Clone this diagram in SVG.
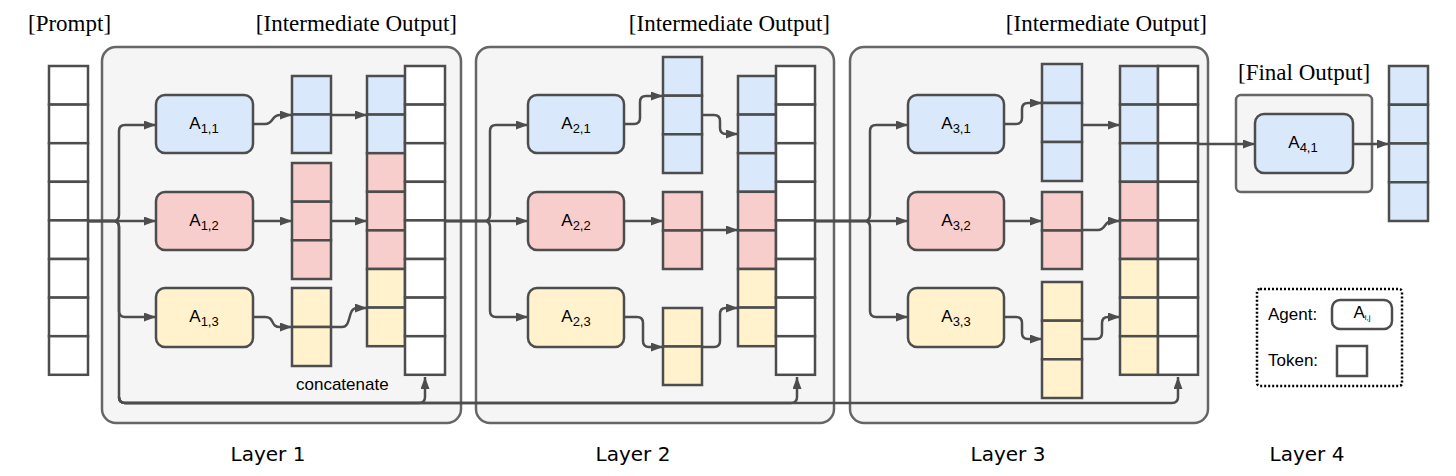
<svg xmlns="http://www.w3.org/2000/svg" width="1456" height="476" viewBox="0 0 1456 476">
<defs>
<style>
.layer{fill:#f5f5f5;stroke:#666;stroke-width:2.5}
.agent{stroke:#4d4d4d;stroke-width:2.5}
.blue{fill:#dae8fc}
.pink{fill:#f8cecc}
.yel{fill:#fff2cc}
.wht{fill:#ffffff}
.cell{stroke:#4d4d4d;stroke-width:2.5}
.conn{fill:none;stroke:#4d4d4d;stroke-width:2.5;marker-end:url(#arr)}
.title{font-family:"Liberation Serif","Times New Roman",serif;font-size:23px;fill:#000}
.lbl{font-family:"Liberation Sans",Arial,sans-serif;fill:#000}
.alabel{font-family:"Liberation Sans",Arial,sans-serif;font-size:17px;fill:#000;text-anchor:middle}
.layername{font-family:"DejaVu Sans",sans-serif;font-size:20px;fill:#000;text-anchor:middle}
</style>
<marker id="arr" markerUnits="userSpaceOnUse" markerWidth="13" markerHeight="10" refX="12" refY="4.5" orient="auto">
<path d="M0,0 L12,4.5 L0,9 z" fill="#4d4d4d"/>
</marker>
</defs>
<rect width="1456" height="476" fill="#ffffff"/>

<!-- Layer containers -->
<g id="layer1"><rect class="layer" x="102" y="47" width="359" height="376" rx="14"/></g>
<g id="layer2"><rect class="layer" x="476" y="47" width="358" height="376" rx="14"/></g>
<g id="layer3"><rect class="layer" x="850" y="47" width="358" height="376" rx="14"/></g>
<g id="layer4"><rect class="layer" x="1236" y="95" width="136" height="97" rx="5"/></g>

<!-- Titles -->
<g id="titles">
<text class="title" x="28" y="31">[Prompt]</text>
<text class="title" x="457" y="31" text-anchor="end">[Intermediate Output]</text>
<text class="title" x="830" y="31" text-anchor="end">[Intermediate Output]</text>
<text class="title" x="1207" y="31" text-anchor="end">[Intermediate Output]</text>
<text class="title" x="1238" y="80">[Final Output]</text>
<text class="lbl" x="296" y="390" font-size="17">concatenate</text>
<text class="layername" x="268" y="461">Layer 1</text>
<text class="layername" x="633" y="461">Layer 2</text>
<text class="layername" x="1008" y="461">Layer 3</text>
<text class="layername" x="1307" y="461">Layer 4</text>
</g>

<!-- Connectors -->
<g id="connectors">
<path class="conn" d="M88,221 H113 Q119,221 119,215 V131 Q119,125 125,125 H156"/>
<path class="conn" d="M88,221 H156"/>
<path class="conn" d="M88,221 H113 Q119,221 119,227 V311 Q119,317 125,317 H156"/>
<path class="conn" d="M88,221 H113 Q119,221 119,227 V397 Q119,403 125,403 H419 Q425,403 425,397 V377"/>
<path class="conn" d="M119,397 Q119,403 125,403 H791 Q797,403 797,397 V377"/>
<path class="conn" d="M119,397 Q119,403 125,403 H1172 Q1178,403 1178,397 V377"/>

<path class="conn" d="M253,124 H265 C274,124 271,115 280,115 H292"/>
<path class="conn" d="M331,115 H367"/>
<path class="conn" d="M253,221 H292"/>
<path class="conn" d="M331,221 H367"/>
<path class="conn" d="M253,317 H265 C275,317 270,327 280,327 H292"/>
<path class="conn" d="M331,327 H342 C352,327 347,308 357,308 H367"/>

<path class="conn" d="M445,221 H484 Q490,221 490,215 V131 Q490,125 496,125 H528"/>
<path class="conn" d="M445,221 H528"/>
<path class="conn" d="M445,221 H484 Q490,221 490,227 V311 Q490,317 496,317 H528"/>

<path class="conn" d="M624,124 H634 Q640,124 640,118 V102 Q640,96 646,96 H663"/>
<path class="conn" d="M702,115 H714 Q720,115 720,121 V128 Q720,134 726,134 H738"/>
<path class="conn" d="M624,221 H663"/>
<path class="conn" d="M702,230 H738"/>
<path class="conn" d="M624,317 H637 Q643,317 643,323 V341 Q643,347 649,347 H663"/>
<path class="conn" d="M702,347 H714 Q720,347 720,341 V314 Q720,308 726,308 H738"/>

<path class="conn" d="M815,221 H864 Q870,221 870,215 V131 Q870,125 876,125 H908"/>
<path class="conn" d="M815,221 H908"/>
<path class="conn" d="M815,221 H864 Q870,221 870,227 V311 Q870,317 876,317 H908"/>

<path class="conn" d="M1004,124 H1016 Q1022,124 1022,118 V109 Q1022,103 1028,103 H1042"/>
<path class="conn" d="M1082,125 H1120"/>
<path class="conn" d="M1004,221 H1042"/>
<path class="conn" d="M1082,230 H1098 C1106,230 1104,221 1112,221 H1120"/>
<path class="conn" d="M1004,317 H1016 Q1022,317 1022,323 V333 Q1022,339 1028,339 H1042"/>
<path class="conn" d="M1082,339 H1096 Q1102,339 1102,333 V323 Q1102,317 1108,317 H1120"/>

<path class="conn" d="M1198,144 H1255"/>
<path class="conn" d="M1353,144 H1389"/>
</g>

<!-- Prompt tokens -->
<g id="prompt">
<rect class="cell wht" x="49" y="66" width="39" height="38.6"/>
<rect class="cell wht" x="49" y="104.6" width="39" height="38.6"/>
<rect class="cell wht" x="49" y="143.2" width="39" height="38.6"/>
<rect class="cell wht" x="49" y="181.8" width="39" height="38.6"/>
<rect class="cell wht" x="49" y="220.4" width="39" height="38.6"/>
<rect class="cell wht" x="49" y="259" width="39" height="38.6"/>
<rect class="cell wht" x="49" y="297.6" width="39" height="38.6"/>
<rect class="cell wht" x="49" y="336.2" width="39" height="38.6"/>
</g>

<!-- Layer 1 agents -->
<g id="A11"><rect class="agent blue" x="156" y="95" width="97" height="58" rx="9"/><text class="alabel" x="204" y="129">A<tspan font-size="13" dy="4">1,1</tspan></text></g>
<g id="A12"><rect class="agent pink" x="156" y="192" width="97" height="58" rx="9"/><text class="alabel" x="204" y="226">A<tspan font-size="13" dy="4">1,2</tspan></text></g>
<g id="A13"><rect class="agent yel" x="156" y="288" width="97" height="59" rx="9"/><text class="alabel" x="204" y="322">A<tspan font-size="13" dy="4">1,3</tspan></text></g>

<g id="out11">
<rect class="cell blue" x="292" y="76" width="39" height="38.5"/>
<rect class="cell blue" x="292" y="114.5" width="39" height="38.5"/>
</g>
<g id="out12">
<rect class="cell pink" x="292" y="163" width="39" height="38.7"/>
<rect class="cell pink" x="292" y="201.7" width="39" height="38.6"/>
<rect class="cell pink" x="292" y="240.3" width="39" height="38.7"/>
</g>
<g id="out13">
<rect class="cell yel" x="292" y="288" width="39" height="39"/>
<rect class="cell yel" x="292" y="327" width="39" height="39"/>
</g>
<g id="concat1">
<rect class="cell blue" x="367" y="76" width="38" height="38.6"/>
<rect class="cell blue" x="367" y="114.6" width="38" height="38.6"/>
<rect class="cell pink" x="367" y="153.2" width="38" height="38.6"/>
<rect class="cell pink" x="367" y="191.8" width="38" height="38.6"/>
<rect class="cell pink" x="367" y="230.4" width="38" height="38.6"/>
<rect class="cell yel" x="367" y="269" width="38" height="38.6"/>
<rect class="cell yel" x="367" y="307.6" width="38" height="38.6"/>
<rect class="cell wht" x="405" y="66" width="40" height="38.6"/>
<rect class="cell wht" x="405" y="104.6" width="40" height="38.6"/>
<rect class="cell wht" x="405" y="143.2" width="40" height="38.6"/>
<rect class="cell wht" x="405" y="181.8" width="40" height="38.6"/>
<rect class="cell wht" x="405" y="220.4" width="40" height="38.6"/>
<rect class="cell wht" x="405" y="259" width="40" height="38.6"/>
<rect class="cell wht" x="405" y="297.6" width="40" height="38.6"/>
<rect class="cell wht" x="405" y="336.2" width="40" height="38.6"/>
</g>

<!-- Layer 2 -->
<g id="A21"><rect class="agent blue" x="528" y="95" width="96" height="58" rx="9"/><text class="alabel" x="576" y="129">A<tspan font-size="13" dy="4">2,1</tspan></text></g>
<g id="A22"><rect class="agent pink" x="528" y="192" width="96" height="58" rx="9"/><text class="alabel" x="576" y="226">A<tspan font-size="13" dy="4">2,2</tspan></text></g>
<g id="A23"><rect class="agent yel" x="528" y="288" width="96" height="59" rx="9"/><text class="alabel" x="576" y="322">A<tspan font-size="13" dy="4">2,3</tspan></text></g>

<g id="out21">
<rect class="cell blue" x="663" y="57" width="39" height="38.7"/>
<rect class="cell blue" x="663" y="95.7" width="39" height="38.6"/>
<rect class="cell blue" x="663" y="134.3" width="39" height="38.7"/>
</g>
<g id="out22">
<rect class="cell pink" x="663" y="192" width="39" height="38.5"/>
<rect class="cell pink" x="663" y="230.5" width="39" height="38.5"/>
</g>
<g id="out23">
<rect class="cell yel" x="663" y="308" width="39" height="38.5"/>
<rect class="cell yel" x="663" y="346.5" width="39" height="38.5"/>
</g>
<g id="concat2">
<rect class="cell blue" x="738" y="76" width="38" height="38.6"/>
<rect class="cell blue" x="738" y="114.6" width="38" height="38.6"/>
<rect class="cell blue" x="738" y="153.2" width="38" height="38.6"/>
<rect class="cell pink" x="738" y="191.8" width="38" height="38.6"/>
<rect class="cell pink" x="738" y="230.4" width="38" height="38.6"/>
<rect class="cell yel" x="738" y="269" width="38" height="38.6"/>
<rect class="cell yel" x="738" y="307.6" width="38" height="38.6"/>
<rect class="cell wht" x="776" y="66" width="39" height="38.6"/>
<rect class="cell wht" x="776" y="104.6" width="39" height="38.6"/>
<rect class="cell wht" x="776" y="143.2" width="39" height="38.6"/>
<rect class="cell wht" x="776" y="181.8" width="39" height="38.6"/>
<rect class="cell wht" x="776" y="220.4" width="39" height="38.6"/>
<rect class="cell wht" x="776" y="259" width="39" height="38.6"/>
<rect class="cell wht" x="776" y="297.6" width="39" height="38.6"/>
<rect class="cell wht" x="776" y="336.2" width="39" height="38.6"/>
</g>

<!-- Layer 3 -->
<g id="A31"><rect class="agent blue" x="908" y="95" width="96" height="58" rx="9"/><text class="alabel" x="956" y="129">A<tspan font-size="13" dy="4">3,1</tspan></text></g>
<g id="A32"><rect class="agent pink" x="908" y="192" width="96" height="58" rx="9"/><text class="alabel" x="956" y="226">A<tspan font-size="13" dy="4">3,2</tspan></text></g>
<g id="A33"><rect class="agent yel" x="908" y="288" width="96" height="59" rx="9"/><text class="alabel" x="956" y="322">A<tspan font-size="13" dy="4">3,3</tspan></text></g>

<g id="out31">
<rect class="cell blue" x="1042" y="64" width="40" height="39"/>
<rect class="cell blue" x="1042" y="103" width="40" height="39"/>
<rect class="cell blue" x="1042" y="142" width="40" height="39"/>
</g>
<g id="out32">
<rect class="cell pink" x="1042" y="192" width="40" height="38.5"/>
<rect class="cell pink" x="1042" y="230.5" width="40" height="38.5"/>
</g>
<g id="out33">
<rect class="cell yel" x="1042" y="282" width="40" height="38.7"/>
<rect class="cell yel" x="1042" y="320.7" width="40" height="38.6"/>
<rect class="cell yel" x="1042" y="359.3" width="40" height="38.7"/>
</g>
<g id="concat3">
<rect class="cell blue" x="1120" y="66" width="38" height="38.6"/>
<rect class="cell blue" x="1120" y="104.6" width="38" height="38.6"/>
<rect class="cell blue" x="1120" y="143.2" width="38" height="38.6"/>
<rect class="cell pink" x="1120" y="181.8" width="38" height="38.6"/>
<rect class="cell pink" x="1120" y="220.4" width="38" height="38.6"/>
<rect class="cell yel" x="1120" y="259" width="38" height="38.6"/>
<rect class="cell yel" x="1120" y="297.6" width="38" height="38.6"/>
<rect class="cell yel" x="1120" y="336.2" width="38" height="38.6"/>
<rect class="cell wht" x="1158" y="66" width="40" height="38.6"/>
<rect class="cell wht" x="1158" y="104.6" width="40" height="38.6"/>
<rect class="cell wht" x="1158" y="143.2" width="40" height="38.6"/>
<rect class="cell wht" x="1158" y="181.8" width="40" height="38.6"/>
<rect class="cell wht" x="1158" y="220.4" width="40" height="38.6"/>
<rect class="cell wht" x="1158" y="259" width="40" height="38.6"/>
<rect class="cell wht" x="1158" y="297.6" width="40" height="38.6"/>
<rect class="cell wht" x="1158" y="336.2" width="40" height="38.6"/>
</g>

<!-- Layer 4 -->
<g id="A41"><rect class="agent blue" x="1255" y="114" width="98" height="59" rx="9"/><text class="alabel" x="1303" y="148">A<tspan font-size="13" dy="4">4,1</tspan></text></g>
<g id="final">
<rect class="cell blue" x="1389" y="66" width="39" height="38.75"/>
<rect class="cell blue" x="1389" y="104.75" width="39" height="38.75"/>
<rect class="cell blue" x="1389" y="143.5" width="39" height="38.75"/>
<rect class="cell blue" x="1389" y="182.25" width="39" height="38.75"/>
</g>

<!-- Legend -->
<g id="legend">
<rect x="1257" y="289" width="145" height="97" rx="3" fill="#ffffff" stroke="#000" stroke-width="2.5" stroke-dasharray="2,2"/>
<text class="lbl" x="1268" y="320" font-size="17">Agent:</text>
<rect class="agent wht" x="1332" y="300" width="60" height="29" rx="8"/>
<text class="alabel" x="1362" y="318" font-size="10">A<tspan font-size="8" dy="2">i,j</tspan></text>
<text class="lbl" x="1268" y="366" font-size="17">Token:</text>
<rect class="cell wht" x="1337" y="346" width="30" height="30"/>
</g>
</svg>
